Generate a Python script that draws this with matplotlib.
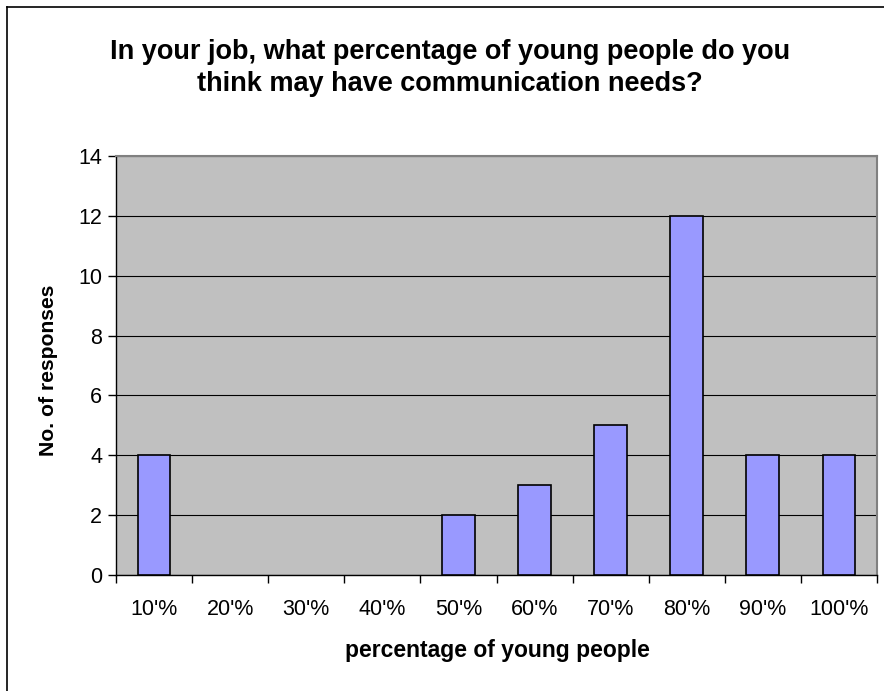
import matplotlib
matplotlib.use("Agg")
import matplotlib.pyplot as plt
from matplotlib.lines import Line2D
import numpy as np

categories = ["10'%", "20'%", "30'%", "40'%", "50'%", "60'%", "70'%", "80'%", "90'%", "100'%"]
responses = [4, 0, 0, 0, 2, 3, 5, 12, 4, 4]
yticks = [0, 2, 4, 6, 8, 10, 12, 14]

plt.rcParams['font.family'] = ['Liberation Sans', 'DejaVu Sans']

W, H = 884, 691
fig = plt.figure(figsize=(W / 100, H / 100), dpi=100)
ax = fig.add_axes([116 / W, 1 - 575 / H, (877 - 116) / W, (575 - 156) / H])
ax.set_facecolor('#C0C0C0')

x = np.arange(len(categories))
ax.set_axisbelow(True)
ax.yaxis.grid(True, color='black', linewidth=0.8)
edges = ['black' if v > 0 else 'none' for v in responses]
ax.bar(x, responses, width=0.43, color='#9999FF', edgecolor=edges, linewidth=1.2, zorder=3)

ax.set_xlim(-0.5, len(categories) - 0.5)
ax.set_ylim(0, 14)
ax.set_yticks(yticks)
ax.set_yticklabels([str(v) for v in yticks], fontsize=15.5)
ax.set_xticks(np.arange(len(categories) + 1) - 0.5)
ax.set_xticklabels([])
ax.set_xticks(x, minor=True)
ax.set_xticklabels(categories, minor=True, fontsize=15.5)
ax.tick_params(axis='x', which='minor', length=0, pad=17)
ax.tick_params(axis='x', which='major', length=6, width=1, direction='out')
ax.tick_params(axis='y', length=6, width=1, direction='out', pad=4)

for s in ['top', 'right']:
    ax.spines[s].set_color('#808080')
    ax.spines[s].set_linewidth(1.5)
for s in ['left', 'bottom']:
    ax.spines[s].set_color('black')
    ax.spines[s].set_linewidth(1.0)

fig.text(497 / W, 1 - 651 / H, 'percentage of young people', ha='center', va='center',
         fontsize=16.5, fontweight='bold')
fig.text(49 / W, 1 - 370 / H, 'No. of responses', ha='center', va='center',
         rotation=90, fontsize=15.2, fontweight='bold')

fig.text(450 / W, 1 - 68 / H,
         'In your job, what percentage of young people do you\nthink may have communication needs?',
         ha='center', va='center', fontsize=19.5, fontweight='bold', linespacing=1.3)

# outer chart border (only top/left visible in reference)
fig.add_artist(Line2D([7 / W, 7 / W], [0, 1 - 7 / H], color='black', linewidth=1.2, transform=fig.transFigure))
fig.add_artist(Line2D([7 / W, 1], [1 - 7 / H, 1 - 7 / H], color='black', linewidth=1.2, transform=fig.transFigure))

fig.savefig('out.png', dpi=100)
